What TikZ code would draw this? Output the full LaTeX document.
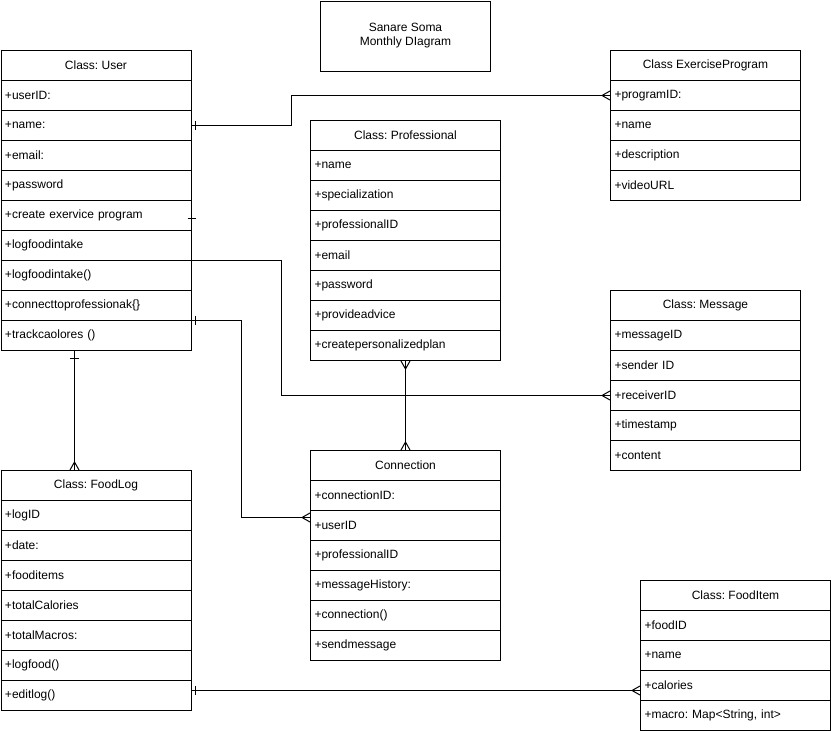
\documentclass[tikz,border=0pt]{standalone}
\usepackage{fontspec}
\setmainfont{Liberation Sans}
\frenchspacing
\tikzset{
  basefont/.style={font=\fontsize{12}{14}\selectfont\frenchspacing},
  hdr/.style={draw, line width=1pt, minimum width=190pt, minimum height=30pt, inner sep=0pt, anchor=north west, basefont},
  rowbox/.style={draw, line width=1pt, minimum height=30pt, text width=182pt, inner xsep=4pt, inner ysep=0pt, align=left, anchor=north west, basefont},
  link/.style={line width=1pt},
  crow/.pic={\draw[link] (-8,0) -- (0,4.5) (-8,0) -- (0,-4.5);},
  onebar/.pic={\draw[link] (0,-4.5) -- (0,4.5);}
}
\newcommand\classbox[5]{%
  \node[hdr] (#1) at (#2,#3) {#4};
  \foreach \rowtxt [count=\i] in {#5}{%
    \node[rowbox] (#1-\i) at (#2,{#3+30*\i}) {\rowtxt};
  }%
}
\begin{document}
\begin{tikzpicture}[x=1pt,y=-1pt]
\useasboundingbox (0,0) rectangle (831,731);

\node[draw, line width=1pt, minimum width=170pt, minimum height=70pt, anchor=north west, align=center, basefont] (title) at (320,0.5) {Sanare Soma\\Monthly DIagram};

\classbox{user}{0.5}{50}{Class: User}{+userID:,+name:,+email:,+password,+create exervice program,+logfoodintake,+logfoodintake(),+connecttoprofessionak\{\},+trackcaolores ()}
\classbox{ex}{610}{50}{Class ExerciseProgram}{+programID:,+name,+description,+videoURL}
\classbox{prof}{310}{120}{Class: Professional}{+name,+specialization,+professionalID,+email,+password,+provideadvice,+createpersonalizedplan}
\classbox{msg}{610}{290}{Class: Message}{+messageID,+sender ID,+receiverID,+timestamp,+content}
\classbox{conn}{310}{450}{Connection}{+connectionID:,+userID,+professionalID,+messageHistory:,+connection(),+sendmessage}
\classbox{fl}{0.5}{470}{Class: FoodLog}{+logID,+date:,+fooditems,+totalCalories,+totalMacros:,+logfood(),+editlog()}
\classbox{fi}{640}{580}{Class: FoodItem}{+foodID,+name,+calories,{+macro: Map<String, int>}}

% User -> ExerciseProgram
\draw[link] (user-2.east) -- ++(100,0) |- (ex-1.west);
\pic at ([xshift=4pt]user-2.east) {onebar};
\pic at (ex-1.west) {crow};

% small tick
\coordinate (tk) at ([yshift=-3pt]user-5.east);
\draw[link] ([xshift=-4pt]tk) -- ([xshift=4pt]tk);

% User -> Message
\draw[link] (user-7.north east) -- ++(90,0) |- (msg-3.west);
\pic at (msg-3.west) {crow};

% User -> Connection
\coordinate (cu) at ([yshift=8pt]conn-2.west);
\draw[link] (user-9.north east) -- ++(50,0) |- (cu);
\pic at ([xshift=4pt]user-9.north east) {onebar};
\pic at (cu) {crow};

% Professional -> Connection
\draw[link] (prof-7.south) -- (conn.north);
\pic[rotate=90] at (prof-7.south) {crow};
\pic[rotate=-90] at (conn.north) {crow};

% User -> FoodLog
\coordinate (ua) at ([xshift=74pt]user-9.south west);
\coordinate (fa) at ([xshift=74pt]fl.north west);
\draw[link] (ua) -- (fa);
\pic[rotate=90] at ([yshift=-7pt]ua) {onebar};
\pic[rotate=-90] at (fa) {crow};

% FoodLog -> FoodItem
\coordinate (fe) at ([yshift=5pt]fl-7.east);
\coordinate (fie) at (fe -| fi-3.west);
\draw[link] (fe) -- (fie);
\pic at ([xshift=4pt]fe) {onebar};
\pic at (fie) {crow};
\end{tikzpicture}
\end{document}
